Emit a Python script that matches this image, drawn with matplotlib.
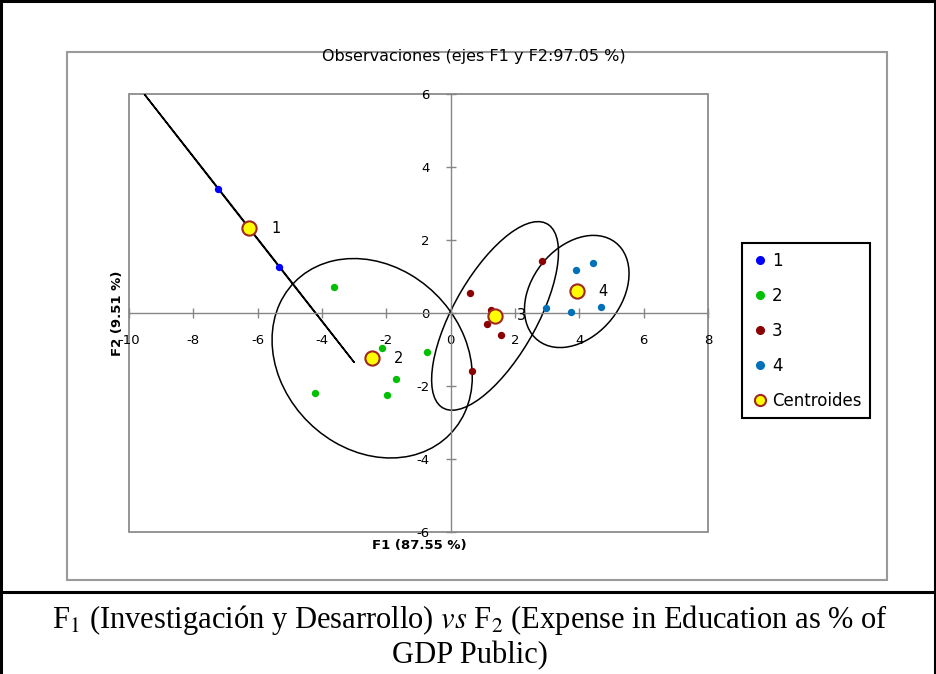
import matplotlib.pyplot as plt
from matplotlib.patches import Ellipse, Rectangle
from matplotlib.lines import Line2D

plt.rcParams['axes.unicode_minus'] = False
plt.rcParams['mathtext.fontset'] = 'stix'

# observations per class (F1, F2)
g1_x = [-7.24, -5.33]
g1_y = [3.40, 1.27]
g2_x = [-3.64, -2.14, -0.75, -1.69, -4.22, -1.97]
g2_y = [0.70, -0.97, -1.08, -1.82, -2.19, -2.26]
g3_x = [0.60, 1.26, 1.12, 1.56, 0.66, 2.84]
g3_y = [0.56, 0.09, -0.30, -0.61, -1.59, 1.42]
g4_x = [2.95, 3.75, 3.90, 4.44, 4.67]
g4_y = [0.13, 0.04, 1.18, 1.37, 0.17]

# class centroids
cent_x = [-6.26, -2.44, 1.38, 3.92]
cent_y = [2.32, -1.24, -0.08, 0.59]
cent_labels = ['1', '2', '3', '4']

# confidence ellipses (semi axes, angle in degrees)
ell_a = [4.92, 3.24, 3.0, 1.82]
ell_b = [0.008, 2.58, 1.25, 1.30]
ell_ang = [-48.4, -27.3, 56, 40]

group_names = ['1', '2', '3', '4']
group_colors = ['#0000FF', '#00C000', '#8B0000', '#0070B8']

W, H = 936, 674
fig = plt.figure(figsize=(W / 100, H / 100), dpi=100)

# table frame around the picture + caption cell
for (x0, y0, x1, y1) in [(1, 1, 935, 1), (1, 1, 1, 674), (935, 1, 935, 674), (1, 592, 935, 592)]:
    fig.add_artist(Line2D([x0 / W, x1 / W], [1 - y0 / H, 1 - y1 / H], color='black', lw=2.2,
                          transform=fig.transFigure))

# excel chart area border
fig.add_artist(Rectangle((67 / W, 1 - 580 / H), 820 / W, 528 / H, fill=False, ec='#9A9A9A', lw=1.5,
                         transform=fig.transFigure))

ax = fig.add_axes([129 / W, 1 - 532 / H, 579 / W, 438 / H])
ax.set_xlim(-10, 8)
ax.set_ylim(-6, 6)

for s in ['top', 'right']:
    ax.spines[s].set_visible(False)
for s in ['left', 'bottom']:
    ax.spines[s].set_position('zero')
    ax.spines[s].set_color('#868686')
    ax.spines[s].set_linewidth(1.0)
ax.add_patch(Rectangle((0, 0), 1, 1, transform=ax.transAxes, fill=False, ec='#8C8C8C', lw=1.3,
                       clip_on=False))

ax.set_xticks(range(-10, 9, 2))
ax.set_yticks(range(-6, 7, 2))
ax.tick_params(direction='inout', length=7, width=1, color='#868686', labelsize=9.5, pad=11.5)

xs = [g1_x, g2_x, g3_x, g4_x]
ys = [g1_y, g2_y, g3_y, g4_y]

for i in range(4):
    e = Ellipse((cent_x[i], cent_y[i]), 2 * ell_a[i], 2 * ell_b[i], angle=ell_ang[i],
                fill=False, ec='black', lw=1.1, zorder=2)
    ax.add_patch(e)
    ax.scatter(xs[i], ys[i], s=28, color=group_colors[i], zorder=3, linewidths=0)

ax.scatter(cent_x, cent_y, s=105, color='#FFFF00', edgecolors='#A0281E', linewidths=1.5, zorder=4)
for x, y, lbl in zip(cent_x, cent_y, cent_labels):
    ax.annotate(lbl, (x, y), xytext=(19, 0), textcoords='offset points', ha='center', va='center',
                fontsize=10.5, zorder=5)

handles = [Line2D([], [], marker='o', ls='none', ms=5.5, color=c, mec=c) for c in group_colors]
handles.append(Line2D([], [], marker='o', ls='none', ms=8, mfc='#FFFF00', mec='#A0281E', mew=1.5))
leg = ax.legend(handles, group_names + ['Centroides'], loc='upper left',
                bbox_to_anchor=(742 / W, 1 - 243 / H), bbox_transform=fig.transFigure,
                fancybox=False, edgecolor='black', framealpha=1, fontsize=12,
                handlelength=1.1, handletextpad=0.17, labelspacing=1.02, borderpad=0.52,
                borderaxespad=0)
leg.get_frame().set_linewidth(1.5)

fig.text(474 / W, 1 - 57 / H, 'Observaciones (ejes F1 y F2:97.05 %)', ha='center', va='center',
         fontsize=11.5)
fig.text(419 / W, 1 - 546 / H, 'F1 (87.55 %)', ha='center', va='center', fontsize=9.5,
         weight='bold')
fig.text(118 / W, 1 - 313 / H, 'F2 (9.51 %)', ha='center', va='center', fontsize=9.5,
         weight='bold', rotation=90)

cap_font = dict(family='Liberation Serif', fontsize=22, ha='center', va='center')
fig.text(470 / W, 1 - 620 / H,
         r'F$_1$ (Investigación y Desarrollo) $\mathit{vs}$ F$_2$ (Expense in Education as % of',
         **cap_font)
fig.text(470 / W, 1 - 656 / H, 'GDP Public)', **cap_font)

fig.savefig('out.png', dpi=100)
